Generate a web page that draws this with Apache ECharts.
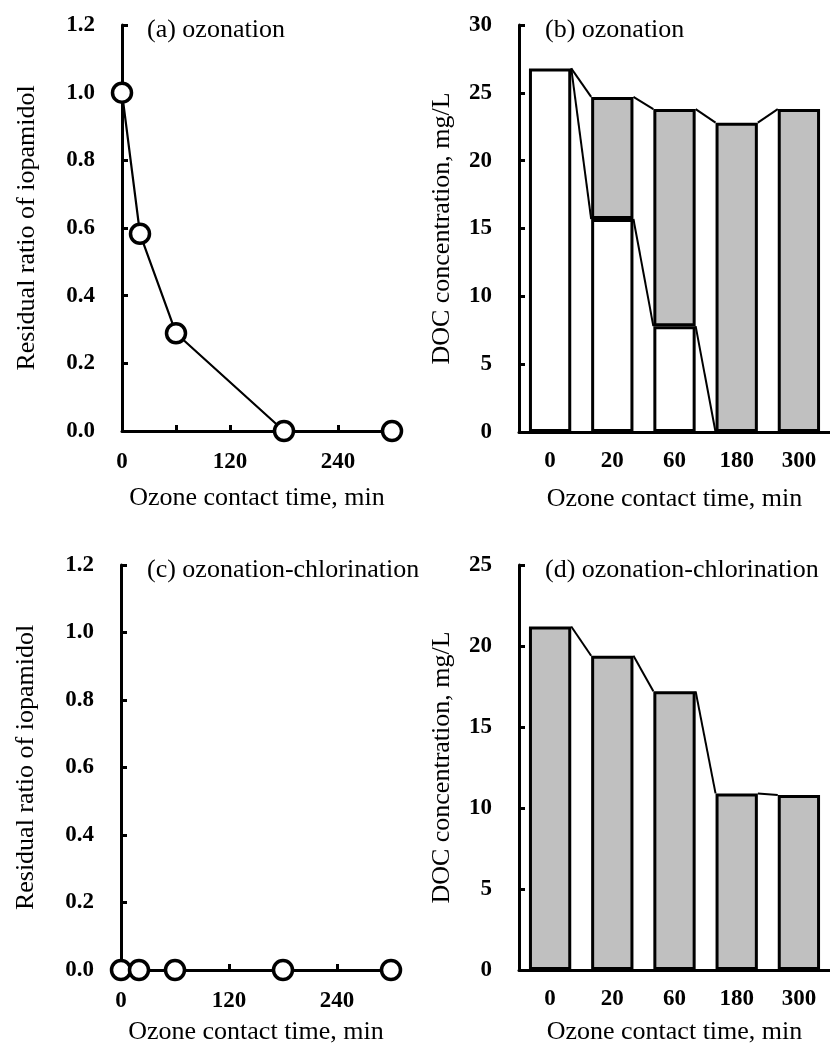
<!DOCTYPE html>
<html>
<head>
<meta charset="utf-8">
<title>iopamidol ozonation</title>
<script src="https://cdn.jsdelivr.net/npm/echarts@6/dist/echarts.min.js"></script>
<style>
    html, body { margin: 0; padding: 0; background: #fff; }
    #main { width: 830px; height: 1046px; }
</style>
</head>
<body>
<div id="main"></div>
<script>
// contact time (min) for panels a and c
var contactTime = [0, 20, 60, 180, 300];
// residual ratio of iopamidol
var ratioOzonation = [1.0, 0.583, 0.289, 0, 0];
var ratioOzoneChlorine = [0, 0, 0, 0, 0];

// DOC panels, categories on x
var docCategories = ['0', '20', '60', '180', '300'];
// (b) white part = lower part of bar, total = top of bar
var docOzonationWhite = [26.8, 15.7, 7.8, 0, 0];
var docOzonationTotal = [26.8, 24.7, 23.8, 22.8, 23.8];
// (d) only grey bars
var docOzoneChlorineTotal = [21.2, 19.4, 17.2, 10.9, 10.8];

var BAR_FRAC = 0.68;
var FONT = 'Liberation Serif';

window.onload = function () {
    chartInit();
}

function pairs(xs, ys) {
    return xs.map(function (x, i) { return [x, ys[i]]; });
}

// segments between neighbour bars: [category, value here, value of next bar]
function segments(vals) {
    var list = [];
    for (var i = 0; i < vals.length - 1; i++) {
        list.push([docCategories[i], vals[i], vals[i + 1]]);
    }
    return list;
}

function renderSegment(params, api) {
    var i = api.value(0);
    var p1 = api.coord([i, api.value(1)]);
    var p2 = api.coord([i + 1, api.value(2)]);
    var half = api.size([1, 0])[0] * BAR_FRAC / 2;
    return {
        type: 'line',
        shape: { x1: p1[0] + half, y1: p1[1], x2: p2[0] - half, y2: p2[1] },
        style: { stroke: '#000', lineWidth: 2 }
    };
}

function valueXAxis(gridIndex, gap) {
    return {
        gridIndex: gridIndex, type: 'value', min: 0, max: 300, interval: 60,
        name: 'Ozone contact time, min', nameLocation: 'middle', nameGap: gap,
        nameTextStyle: { fontFamily: FONT, fontSize: 26, color: '#000' },
        axisLine: { lineStyle: { color: '#000', width: 3 } },
        axisTick: { inside: true, length: 6, lineStyle: { width: 3, color: '#000' } },
        axisLabel: {
            margin: 20, fontFamily: FONT, fontSize: 23, fontWeight: 'bold', color: '#000',
            formatter: function (v) { return v % 120 === 0 ? v : ''; }
        },
        splitLine: { show: false }
    };
}

function catXAxis(gridIndex, gap) {
    return {
        gridIndex: gridIndex, type: 'category', data: docCategories, boundaryGap: true,
        name: 'Ozone contact time, min', nameLocation: 'middle', nameGap: gap,
        nameTextStyle: { fontFamily: FONT, fontSize: 26, color: '#000' },
        axisLine: { lineStyle: { color: '#000', width: 3 } },
        axisTick: { inside: true, length: 6, lineStyle: { width: 3, color: '#000' } },
        axisLabel: { margin: 18, fontFamily: FONT, fontSize: 23, fontWeight: 'bold', color: '#000' }
    };
}

function yAxisOf(gridIndex, max, interval, name, gap, digits) {
    return {
        gridIndex: gridIndex, type: 'value', min: 0, max: max, interval: interval,
        name: name, nameLocation: 'middle', nameGap: gap,
        nameTextStyle: { fontFamily: FONT, fontSize: 26, color: '#000' },
        axisLine: { show: true, lineStyle: { color: '#000', width: 3 } },
        axisTick: { show: true, inside: true, length: 6, lineStyle: { width: 3, color: '#000' } },
        axisLabel: {
            margin: 27, fontFamily: FONT, fontSize: 23, fontWeight: 'bold', color: '#000',
            formatter: function (v) { return v.toFixed(digits); }
        },
        splitLine: { show: false }
    };
}

function panelTitle(text, left, top) {
    return {
        text: text, left: left, top: top, padding: 0,
        textStyle: { fontFamily: FONT, fontSize: 26, fontWeight: 'normal', color: '#000' }
    };
}

function lineSeries(idx, data) {
    return {
        type: 'line', xAxisIndex: idx, yAxisIndex: idx, data: data,
        symbol: 'circle', symbolSize: 19, z: 5,
        lineStyle: { color: '#000', width: 2.2 },
        itemStyle: { color: '#fff', borderColor: '#000', borderWidth: 3.5 },
        clip: false, animation: false
    };
}

function chartInit() {
    var myChart = echarts.init(document.getElementById('main'));

    // grey part of (b) sits on top of the white part
    var greyPartB = docOzonationTotal.map(function (t, i) {
        var g = t - docOzonationWhite[i];
        return g > 0 ? +g.toFixed(2) : '-';
    });
    var whitePartB = docOzonationWhite.map(function (w) { return w > 0 ? w : '-'; });

    var barStyle = function (fill) {
        return { color: fill, borderColor: '#000', borderWidth: 3 };
    };

    var option = {
        animation: false,
        textStyle: { fontFamily: FONT },
        title: [
            panelTitle('(a) ozonation', 147, 17),
            panelTitle('(b) ozonation', 545, 17),
            panelTitle('(c) ozonation-chlorination', 147, 557),
            panelTitle('(d) ozonation-chlorination', 545, 557)
        ],
        grid: [
            { left: 122, top: 25, width: 270, height: 406 },
            { left: 519, top: 25, width: 311, height: 407 },
            { left: 121, top: 565, width: 270, height: 406 },
            { left: 519, top: 565, width: 311, height: 407 }
        ],
        xAxis: [
            valueXAxis(0, 54),
            catXAxis(1, 54),
            valueXAxis(2, 49),
            catXAxis(3, 49)
        ],
        yAxis: [
            yAxisOf(0, 1.2, 0.2, 'Residual ratio of iopamidol', 82, 1),
            yAxisOf(1, 30, 5, 'DOC concentration, mg/L', 64, 0),
            yAxisOf(2, 1.2, 0.2, 'Residual ratio of iopamidol', 82, 1),
            yAxisOf(3, 25, 5, 'DOC concentration, mg/L', 64, 0)
        ],
        series: [
            lineSeries(0, pairs(contactTime, ratioOzonation)),
            lineSeries(2, pairs(contactTime, ratioOzoneChlorine)),
            {
                type: 'bar', xAxisIndex: 1, yAxisIndex: 1, stack: 'b',
                barWidth: (BAR_FRAC * 100) + '%', data: whitePartB,
                itemStyle: barStyle('#fff')
            },
            {
                type: 'bar', xAxisIndex: 1, yAxisIndex: 1, stack: 'b',
                barWidth: (BAR_FRAC * 100) + '%', data: greyPartB,
                itemStyle: barStyle('#c0c0c0')
            },
            {
                type: 'custom', xAxisIndex: 1, yAxisIndex: 1, z: 6,
                renderItem: renderSegment, data: segments(docOzonationTotal)
            },
            {
                type: 'custom', xAxisIndex: 1, yAxisIndex: 1, z: 6,
                renderItem: renderSegment, data: segments(docOzonationWhite.slice(0, 4))
            },
            {
                type: 'bar', xAxisIndex: 3, yAxisIndex: 3,
                barWidth: (BAR_FRAC * 100) + '%', data: docOzoneChlorineTotal,
                itemStyle: barStyle('#c0c0c0')
            },
            {
                type: 'custom', xAxisIndex: 3, yAxisIndex: 3, z: 6,
                renderItem: renderSegment, data: segments(docOzoneChlorineTotal)
            }
        ]
    };

    myChart.setOption(option);
}
</script>
</body>
</html>
